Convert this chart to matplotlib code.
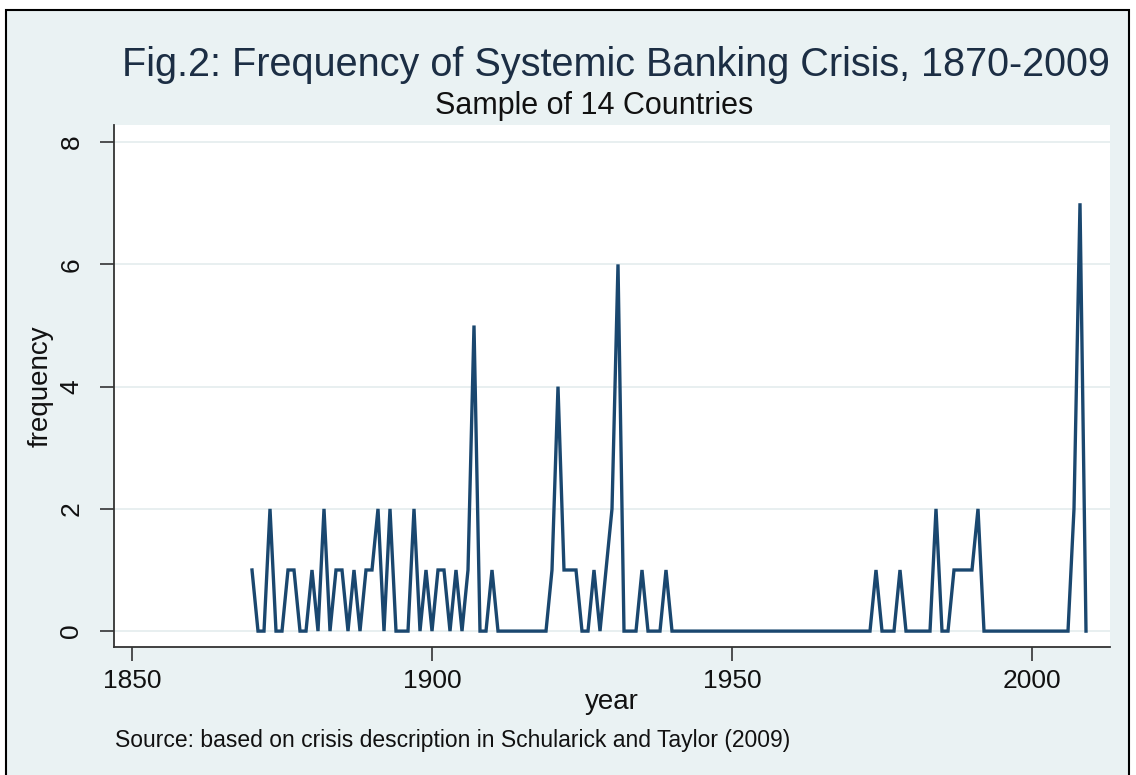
import matplotlib
matplotlib.use('Agg')
import matplotlib.pyplot as plt
from matplotlib.patches import Rectangle

plt.rcParams['font.family'] = ['Liberation Sans', 'DejaVu Sans']

years = list(range(1870, 2010))
counts = [
    1, 0, 0, 2, 0, 0, 1, 1, 0, 0,   # 1870s
    1, 0, 2, 0, 1, 1, 0, 1, 0, 1,   # 1880s
    1, 2, 0, 2, 0, 0, 0, 2, 0, 1,   # 1890s
    0, 1, 1, 0, 1, 0, 1, 5, 0, 0,   # 1900s
    1, 0, 0, 0, 0, 0, 0, 0, 0, 0,   # 1910s
    1, 4, 1, 1, 1, 0, 0, 1, 0, 1,   # 1920s
    2, 6, 0, 0, 0, 1, 0, 0, 0, 1,   # 1930s
    0, 0, 0, 0, 0, 0, 0, 0, 0, 0,   # 1940s
    0, 0, 0, 0, 0, 0, 0, 0, 0, 0,   # 1950s
    0, 0, 0, 0, 0, 0, 0, 0, 0, 0,   # 1960s
    0, 0, 0, 0, 1, 0, 0, 0, 1, 0,   # 1970s
    0, 0, 0, 0, 2, 0, 0, 1, 1, 1,   # 1980s
    1, 2, 0, 0, 0, 0, 0, 0, 0, 0,   # 1990s
    0, 0, 0, 0, 0, 0, 0, 2, 7, 0,   # 2000s
]
xticks = [1850, 1900, 1950, 2000]
yticks = [0, 2, 4, 6, 8]

bg = '#eaf2f3'
navy = '#1a476f'

fig = plt.figure(figsize=(11.36, 7.75), dpi=100)
fig.patch.set_facecolor('white')
# stata-style outer frame, kept behind the axes
fig.patches.append(Rectangle((6 / 1136, -0.01), 1123 / 1136, 1 - 10 / 775 + 0.01,
                             transform=fig.transFigure, facecolor=bg,
                             edgecolor='black', linewidth=1.5, zorder=-5))

ax = fig.add_axes([114 / 1136, 1 - 647 / 775, 996 / 1136, 522 / 775])
ax.set_zorder(2)
ax.set_facecolor('white')
ax.plot(years, counts, color=navy, linewidth=2.4, solid_joinstyle='miter')

ax.set_xlim(1847, 2013)
ax.set_ylim(-0.26, 8.28)
ax.set_xticks(xticks)
ax.set_yticks(yticks)
ax.set_yticklabels([str(v) for v in yticks], rotation=90, va='center')
ax.yaxis.grid(True, color='#e6eeef', linewidth=1.3)
ax.set_axisbelow(True)
for side in ['top', 'right']:
    ax.spines[side].set_visible(False)
for side in ['left', 'bottom']:
    ax.spines[side].set_color('#333333')
    ax.spines[side].set_linewidth(1.3)
ax.tick_params(direction='out', length=10, width=1.2, color='#333333',
               labelsize=19, labelcolor='#111111')
ax.tick_params(axis='x', pad=6)
ax.tick_params(axis='y', pad=12)

ax.set_xlabel('year', fontsize=20, labelpad=-3, color='#111111')
ax.set_ylabel('frequency', fontsize=20, labelpad=4, color='#111111')

fig.text(616 / 1136, 1 - 65 / 775, 'Fig.2: Frequency of Systemic Banking Crisis, 1870-2009',
         ha='center', va='center', fontsize=28.5, color='#1c2e44')
fig.text(594 / 1136, 1 - 106 / 775, 'Sample of 14 Countries',
         ha='center', va='center', fontsize=22, color='#111111')
fig.text(115 / 1136, 1 - 741 / 775,
         'Source: based on crisis description in Schularick and Taylor (2009)',
         ha='left', va='center', fontsize=16.5, color='#111111')

fig.savefig('out.png', dpi=100, facecolor=fig.get_facecolor())
